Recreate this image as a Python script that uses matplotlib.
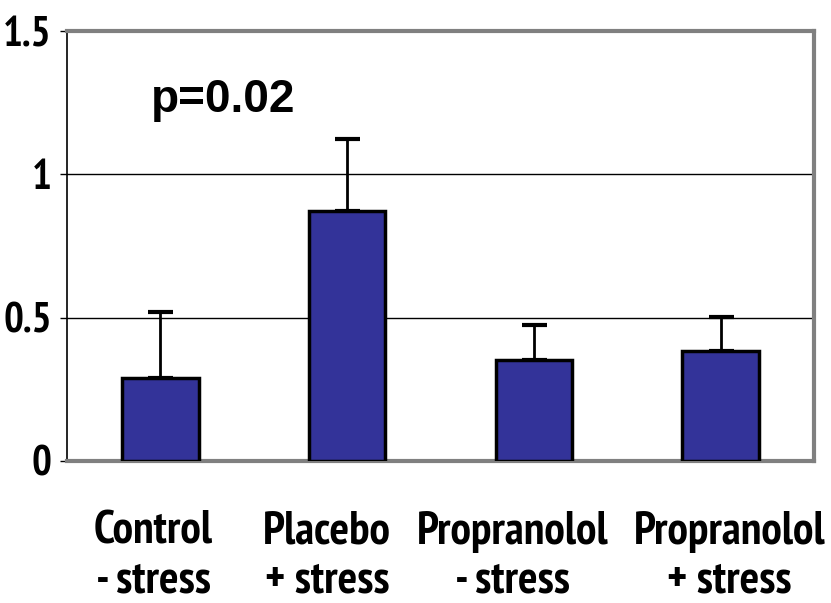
import matplotlib
matplotlib.use('Agg')
import matplotlib.pyplot as plt
import matplotlib.transforms as mtransforms
import numpy as np

categories = ['Control\n- stress', 'Placebo\n+ stress', 'Propranolol\n- stress', 'Propranolol\n+ stress']
means = [0.29, 0.872, 0.352, 0.383]
errors = [0.23, 0.25, 0.122, 0.12]
y_ticks = [0, 0.5, 1, 1.5]
y_tick_labels = ['0', '0.5', '1', '1.5']

narrow = ['PT Sans Narrow', 'Archivo Narrow', 'DejaVu Sans']

fig = plt.figure(figsize=(8.31, 6.03), dpi=100)
ax = fig.add_axes([0.0806, 0.2355, 0.899, 0.713])

x = np.arange(len(categories))
ax.bar(x, means, width=0.41, color='#333399', edgecolor='black', linewidth=2.5, zorder=3)
ax.errorbar(x, means, yerr=[np.zeros(len(errors)), errors], fmt='none', ecolor='black',
            elinewidth=2, capsize=9, capthick=3, zorder=2)

ax.set_xlim(-0.5, len(categories) - 0.5)
ax.set_ylim(0, 1.5)
ax.set_yticks(y_ticks)
ax.set_yticklabels(y_tick_labels, family=narrow, fontweight='bold', fontsize=30)
ax.set_xticks(x)
ax.set_xticklabels(categories, family=narrow, fontweight='bold', fontsize=33, linespacing=1.2)
ax.tick_params(axis='x', length=0, pad=36)
ax.tick_params(axis='y', length=5, width=1, direction='out', pad=6)

# nudge the labels a bit like in the original
shifts = [-7, -20, -21, 9]
for lab, dx in zip(ax.get_xticklabels(), shifts):
    lab.set_transform(lab.get_transform() + mtransforms.ScaledTranslation(dx / 100, 0, fig.dpi_scale_trans))

for yv in [0.5, 1.0]:
    ax.axhline(yv, color='black', linewidth=1, zorder=1)

ax.spines['left'].set_color('black')
ax.spines['left'].set_linewidth(1.2)
for s in ['top', 'right', 'bottom']:
    ax.spines[s].set_color('#808080')
    ax.spines[s].set_linewidth(3)

ax.text(-0.05, 1.217, 'p=0.02', fontsize=33, fontweight='bold',
        family=['Liberation Sans', 'DejaVu Sans'])

fig.savefig('out.png', dpi=100)
